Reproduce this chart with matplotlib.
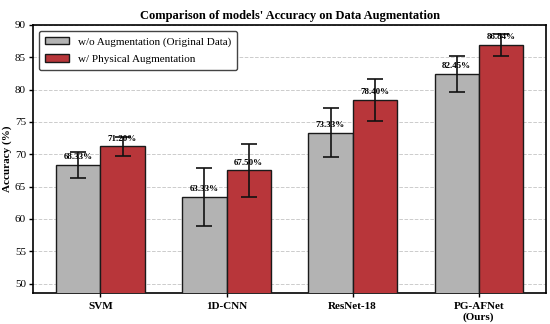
import matplotlib.pyplot as plt
import numpy as np

plt.rcParams['font.family'] = ['Liberation Serif', 'DejaVu Serif']
plt.rcParams['font.size'] = 8

models = ['SVM', '1D-CNN', 'ResNet-18', 'PG-AFNet\n(Ours)']
acc_orig = [68.33, 63.33, 73.33, 82.45]
acc_aug = [71.20, 67.50, 78.40, 86.84]
err_orig = [2.0, 4.5, 3.8, 2.8]
err_aug = [1.5, 4.1, 3.2, 1.7]

x = np.arange(len(models))
w = 0.35

fig = plt.figure(figsize=(5.5, 3.24), dpi=100)
ax = fig.add_axes([0.06, 0.095, 0.933, 0.828])

ekw = dict(elinewidth=1.2, capthick=1.2, ecolor='#111111')
ax.bar(x - w / 2, acc_orig, w, color='#B3B3B3', edgecolor='#1a1a1a', linewidth=1,
       yerr=err_orig, capsize=6, error_kw=ekw,
       label='w/o Augmentation (Original Data)', zorder=3)
ax.bar(x + w / 2, acc_aug, w, color='#B8363A', edgecolor='#1a1a1a', linewidth=1,
       yerr=err_aug, capsize=6, error_kw=ekw,
       label='w/ Physical Augmentation', zorder=3)

for i in range(len(models)):
    ax.text(x[i] - w / 2, acc_orig[i] + 0.6, '%.2f%%' % acc_orig[i],
            ha='center', va='bottom', fontsize=6.5, fontweight='bold', zorder=4)
    ax.text(x[i] + w / 2, acc_aug[i] + 0.6, '%.2f%%' % acc_aug[i],
            ha='center', va='bottom', fontsize=6.5, fontweight='bold', zorder=4)

ax.set_ylim(48.5, 90)
ax.set_yticks(np.arange(50, 91, 5))
ax.set_xticks(x)
ax.set_xticklabels(models, fontweight='bold')
ax.tick_params(axis='x', length=3, width=1, pad=3)
ax.tick_params(axis='y', length=3, width=1, pad=2)
ax.set_ylabel('Accuracy (%)', fontweight='bold', labelpad=2)
ax.set_title("Comparison of models' Accuracy on Data Augmentation",
             fontweight='bold', fontsize=9, pad=4)
ax.yaxis.grid(True, linestyle='--', color='#cccccc', linewidth=0.7, zorder=0)
for s in ax.spines.values():
    s.set_linewidth(1.2)

leg = ax.legend(loc='upper left', fontsize=8, frameon=True, fancybox=True,
                edgecolor='#444444', framealpha=1, labelspacing=0.7,
                borderpad=0.55, handlelength=2.2)

fig.savefig('out.png', dpi=100)
